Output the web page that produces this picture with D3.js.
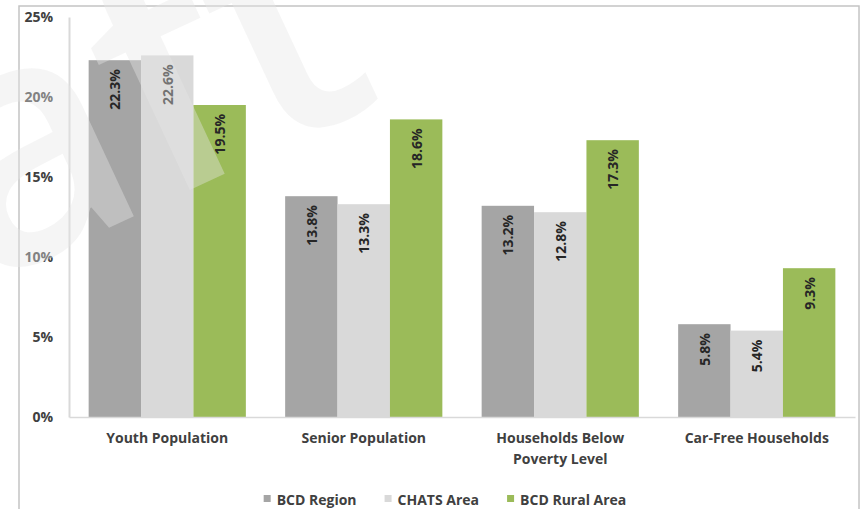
<!DOCTYPE html>
<html>
<head>
<meta charset="utf-8">
<script src="https://cdn.jsdelivr.net/npm/d3@7/dist/d3.min.js"></script>
<style>
  html, body { margin: 0; padding: 0; background: #fff; }
  svg { display: block; }
  text { font-family: "Open Sans", "DejaVu Sans", sans-serif; }
</style>
</head>
<body>
<svg id="chart" width="861" height="509"></svg>
<script>
// Demographic indicators by area
const categories = ["Youth Population", "Senior Population", "Households Below Poverty Level", "Car-Free Households"];
const seriesNames = ["BCD Region", "CHATS Area", "BCD Rural Area"];
const bcdRegion = [22.3, 13.8, 13.2, 5.8];
const chatsArea = [22.6, 13.3, 12.8, 5.4];
const bcdRural = [19.5, 18.6, 17.3, 9.3];
const yTicks = [0, 5, 10, 15, 20, 25];

const seriesValues = [bcdRegion, chatsArea, bcdRural];
const colors = ["#a5a5a5", "#d9d9d9", "#9bbb59"];

const svg = d3.select("#chart");

// outer frame
svg.append("rect")
  .attr("x", 19).attr("y", 6)
  .attr("width", 840).attr("height", 520)
  .attr("fill", "#fff")
  .attr("stroke", "#c4c4c4").attr("stroke-width", 1.5);

const plot = { left: 69, right: 855, top: 17, bottom: 417 };

const x0 = d3.scaleBand()
  .domain(categories)
  .range([plot.left, plot.right])
  .paddingInner(0.2)
  .paddingOuter(0.1);

const x1 = d3.scaleBand()
  .domain(seriesNames)
  .range([0, x0.bandwidth()]);

const y = d3.scaleLinear()
  .domain([0, 25])
  .range([plot.bottom, plot.top]);

const axisColor = "#d9d9d9";
const textColor = "#404040";

// y axis
const yAxis = svg.append("g")
  .attr("transform", `translate(${plot.left},0)`)
  .call(d3.axisLeft(y).tickValues(yTicks).tickFormat(d => d + "%").tickSize(0).tickPadding(16));
yAxis.select(".domain").attr("stroke", axisColor).attr("stroke-width", 2);
yAxis.selectAll("text")
  .attr("fill", textColor)
  .style("font-size", "14px")
  .style("font-weight", "700");

// bars
const rows = categories.map((c, i) => ({
  category: c,
  values: seriesNames.map((s, j) => ({ series: s, value: seriesValues[j][i], color: colors[j] }))
}));

const groups = svg.append("g").selectAll("g")
  .data(rows)
  .join("g")
  .attr("transform", d => `translate(${x0(d.category)},0)`);

groups.selectAll("rect")
  .data(d => d.values)
  .join("rect")
  .attr("x", d => x1(d.series))
  .attr("width", x1.bandwidth())
  .attr("y", d => y(d.value))
  .attr("height", d => y(0) - y(d.value))
  .attr("fill", d => d.color);

// value labels, rotated inside the top of each bar
groups.selectAll("text.value")
  .data(d => d.values)
  .join("text")
  .attr("class", "value")
  .attr("transform", d => `translate(${x1(d.series) + x1.bandwidth() / 2},${y(d.value) + 9}) rotate(-90)`)
  .attr("text-anchor", "end")
  .attr("dominant-baseline", "central")
  .attr("fill", "#262626")
  .style("font-size", "14px")
  .style("font-weight", "700")
  .text(d => d.value.toFixed(1) + "%");

// x axis
const xAxis = svg.append("g")
  .attr("transform", `translate(0,${plot.bottom})`)
  .call(d3.axisBottom(x0).tickSize(0).tickPadding(16).tickSizeOuter(0));
xAxis.select(".domain").attr("stroke", axisColor).attr("stroke-width", 1.5);
xAxis.selectAll("text")
  .attr("fill", textColor)
  .style("font-size", "14px")
  .style("font-weight", "700")
  .call(wrap, 160, 21);

// break long category names onto several lines
function wrap(sel, width, lineHeight) {
  sel.each(function () {
    const t = d3.select(this);
    const words = t.text().split(/\s+/);
    const y0 = +t.attr("y");
    const dy = t.attr("dy");
    t.text(null);
    let line = [];
    let lineNo = 0;
    let tspan = t.append("tspan").attr("x", 0).attr("y", y0).attr("dy", dy);
    for (const w of words) {
      line.push(w);
      tspan.text(line.join(" "));
      if (tspan.node().getComputedTextLength() > width && line.length > 1) {
        line.pop();
        tspan.text(line.join(" "));
        line = [w];
        lineNo++;
        tspan = t.append("tspan").attr("x", 0)
          .attr("y", y0 + lineNo * lineHeight).attr("dy", dy).text(w);
      }
    }
  });
}

// legend
const legend = svg.append("g").attr("transform", "translate(0,499)");
const items = legend.selectAll("g")
  .data(seriesNames.map((s, i) => ({ name: s, color: colors[i] })))
  .join("g");
items.append("rect")
  .attr("width", 7).attr("height", 7)
  .attr("y", -4)
  .attr("fill", d => d.color);
items.append("text")
  .attr("x", 13)
  .attr("dominant-baseline", "central")
  .attr("fill", textColor)
  .style("font-size", "14px")
  .style("font-weight", "700")
  .text(d => d.name);
const widths = [];
items.each(function () { widths.push(this.getBBox().width); });
const gap = 28;
const total = d3.sum(widths) + gap * (widths.length - 1);
let cx = 445 - total / 2;
items.attr("transform", (d, i) => {
  const t = `translate(${cx},0)`;
  cx += widths[i] + gap;
  return t;
});

// watermark
svg.append("text")
  .attr("transform", "translate(-372,452) rotate(-25)")
  .attr("fill", "#e6e6e6")
  .attr("fill-opacity", 0.4)
  .style("font-size", "335px")
  .style("font-weight", "600")
  .style("pointer-events", "none")
  .text("Draft");
</script>
</body>
</html>
